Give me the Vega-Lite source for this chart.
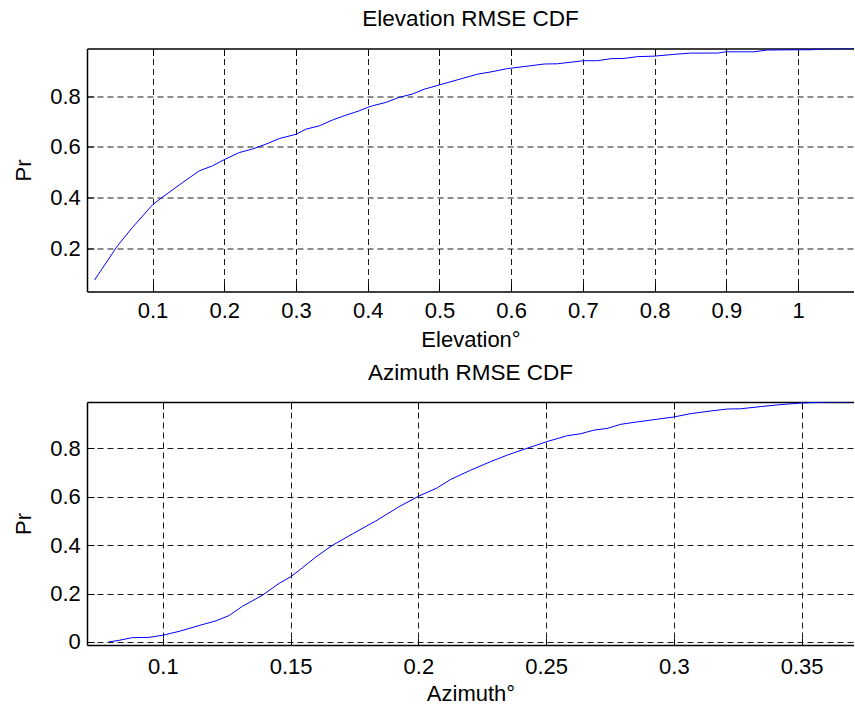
{
  "$schema": "https://vega.github.io/schema/vega-lite/v6.json",
  "padding": {"left": 12, "top": 7.5, "right": 0, "bottom": 0},
  "background": "white",
  "spacing": 10.5,
  "config": {
    "font": "Liberation Sans",
    "view": {"stroke": null},
    "title": {"font": "Liberation Sans", "fontSize": 22.5, "fontWeight": "normal", "color": "#000", "baseline": "alphabetic", "offset": 18, "anchor": "middle"},
    "axis": {
      "labelFont": "Liberation Sans", "labelFontSize": 22, "labelColor": "#000",
      "titleFont": "Liberation Sans", "titleFontSize": 22, "titleFontWeight": "normal", "titleColor": "#000",
      "domainColor": "#000", "domainWidth": 1.5, "tickColor": "#000", "tickWidth": 1, "tickSize": -7,
      "gridColor": "#1a1a1a", "gridDash": [6, 4], "gridWidth": 1, "gridOpacity": 1,
      "labelFlush": false, "labelOverlap": false
    },
    "line": {"color": "#0000ff", "strokeWidth": 1}
  },
  "datasets": {
    "elev": [
      {"x": 0.0191, "y": 0.077}, {"x": 0.0512, "y": 0.212}, {"x": 0.0721, "y": 0.284}, {"x": 0.1, "y": 0.373},
      {"x": 0.1125, "y": 0.4}, {"x": 0.1418, "y": 0.46}, {"x": 0.165, "y": 0.506}, {"x": 0.1836, "y": 0.526},
      {"x": 0.2013, "y": 0.552}, {"x": 0.2209, "y": 0.578}, {"x": 0.2394, "y": 0.592}, {"x": 0.258, "y": 0.611},
      {"x": 0.2766, "y": 0.633}, {"x": 0.3003, "y": 0.65}, {"x": 0.3138, "y": 0.67}, {"x": 0.3324, "y": 0.683},
      {"x": 0.351, "y": 0.706}, {"x": 0.3696, "y": 0.725}, {"x": 0.3881, "y": 0.742}, {"x": 0.3993, "y": 0.755},
      {"x": 0.4067, "y": 0.762}, {"x": 0.4253, "y": 0.775}, {"x": 0.4439, "y": 0.795}, {"x": 0.4624, "y": 0.808},
      {"x": 0.4787, "y": 0.827}, {"x": 0.5001, "y": 0.844}, {"x": 0.5252, "y": 0.864}, {"x": 0.553, "y": 0.886},
      {"x": 0.5717, "y": 0.895}, {"x": 0.5949, "y": 0.908}, {"x": 0.6181, "y": 0.916}, {"x": 0.646, "y": 0.926},
      {"x": 0.6645, "y": 0.927}, {"x": 0.7013, "y": 0.939}, {"x": 0.7203, "y": 0.939}, {"x": 0.739, "y": 0.947},
      {"x": 0.7575, "y": 0.948}, {"x": 0.776, "y": 0.955}, {"x": 0.7998, "y": 0.957}, {"x": 0.8272, "y": 0.964},
      {"x": 0.8505, "y": 0.969}, {"x": 0.8876, "y": 0.969}, {"x": 0.8987, "y": 0.974}, {"x": 0.9387, "y": 0.974},
      {"x": 0.9573, "y": 0.981}, {"x": 1.0, "y": 0.982}, {"x": 1.0177, "y": 0.982}, {"x": 1.036, "y": 0.986},
      {"x": 1.078, "y": 0.987}
    ],
    "azim": [
      {"x": 0.0787, "y": 0.0}, {"x": 0.0829, "y": 0.007}, {"x": 0.0881, "y": 0.018}, {"x": 0.0946, "y": 0.019},
      {"x": 0.1, "y": 0.028}, {"x": 0.1064, "y": 0.044}, {"x": 0.1142, "y": 0.068}, {"x": 0.1207, "y": 0.087},
      {"x": 0.1259, "y": 0.109}, {"x": 0.1311, "y": 0.147}, {"x": 0.139, "y": 0.193}, {"x": 0.1455, "y": 0.242},
      {"x": 0.1502, "y": 0.27}, {"x": 0.1546, "y": 0.306}, {"x": 0.1599, "y": 0.351}, {"x": 0.1664, "y": 0.399},
      {"x": 0.1742, "y": 0.446}, {"x": 0.1833, "y": 0.499}, {"x": 0.1924, "y": 0.558}, {"x": 0.2002, "y": 0.602},
      {"x": 0.2074, "y": 0.636}, {"x": 0.2127, "y": 0.671}, {"x": 0.2205, "y": 0.709}, {"x": 0.2283, "y": 0.744},
      {"x": 0.2348, "y": 0.771}, {"x": 0.2414, "y": 0.795}, {"x": 0.2501, "y": 0.826}, {"x": 0.2583, "y": 0.851},
      {"x": 0.2635, "y": 0.859}, {"x": 0.2687, "y": 0.874}, {"x": 0.2739, "y": 0.881}, {"x": 0.2792, "y": 0.898},
      {"x": 0.2857, "y": 0.908}, {"x": 0.2935, "y": 0.919}, {"x": 0.2999, "y": 0.928}, {"x": 0.3066, "y": 0.942},
      {"x": 0.3144, "y": 0.953}, {"x": 0.3209, "y": 0.961}, {"x": 0.3261, "y": 0.962}, {"x": 0.334, "y": 0.971},
      {"x": 0.3405, "y": 0.978}, {"x": 0.35, "y": 0.986}, {"x": 0.3587, "y": 0.989}, {"x": 0.3704, "y": 0.991}
    ]
  },
  "vconcat": [
    {
      "title": "Elevation RMSE CDF",
      "width": 767,
      "height": 243,
      "data": {"name": "elev"},
      "layer": [
        {
          "mark": {"type": "line", "clip": true},
          "encoding": {
            "x": {"field": "x", "type": "quantitative",
              "scale": {"domain": [0.0086, 1.078], "nice": false, "zero": false},
              "axis": {"orient": "bottom", "title": "Elevation°", "values": [0.1, 0.2, 0.3, 0.4, 0.5, 0.6, 0.7, 0.8, 0.9, 1.0], "format": "~g", "labelPadding": 16.4, "titlePadding": 8}},
            "y": {"field": "y", "type": "quantitative",
              "scale": {"domain": [0.032, 0.987], "nice": false, "zero": false},
              "axis": {"orient": "left", "title": "Pr", "values": [0.2, 0.4, 0.6, 0.8], "format": "~g", "labelPadding": 13.7, "titlePadding": 14}}
          }
        },
        {
          "mark": {"type": "line", "opacity": 0},
          "encoding": {
            "x": {"field": "x", "type": "quantitative",
              "axis": {"orient": "top", "title": null, "labels": false, "grid": false, "values": [0.1, 0.2, 0.3, 0.4, 0.5, 0.6, 0.7, 0.8, 0.9, 1.0]}},
            "y": {"field": "y", "type": "quantitative"}
          }
        }
      ],
      "resolve": {"axis": {"x": "independent"}}
    },
    {
      "title": {"text": "Azimuth RMSE CDF", "offset": 17},
      "width": 767,
      "height": 243,
      "data": {"name": "azim"},
      "layer": [
        {
          "mark": {"type": "line", "clip": true},
          "encoding": {
            "x": {"field": "x", "type": "quantitative",
              "scale": {"domain": [0.0703, 0.3705], "nice": false, "zero": false},
              "axis": {"orient": "bottom", "title": "Azimuth°", "values": [0.1, 0.15, 0.2, 0.25, 0.3, 0.35], "format": "~g", "labelPadding": 18.4, "titlePadding": 6.3}},
            "y": {"field": "y", "type": "quantitative",
              "scale": {"domain": [-0.0124, 0.99], "nice": false, "zero": false},
              "axis": {"orient": "left", "title": "Pr", "values": [0, 0.2, 0.4, 0.6, 0.8], "format": "~g", "labelPadding": 13.7, "titlePadding": 14}}
          }
        },
        {
          "mark": {"type": "line", "opacity": 0},
          "encoding": {
            "x": {"field": "x", "type": "quantitative",
              "axis": {"orient": "top", "title": null, "labels": false, "grid": false, "values": [0.1, 0.15, 0.2, 0.25, 0.3, 0.35]}},
            "y": {"field": "y", "type": "quantitative"}
          }
        }
      ],
      "resolve": {"axis": {"x": "independent"}}
    }
  ]
}
